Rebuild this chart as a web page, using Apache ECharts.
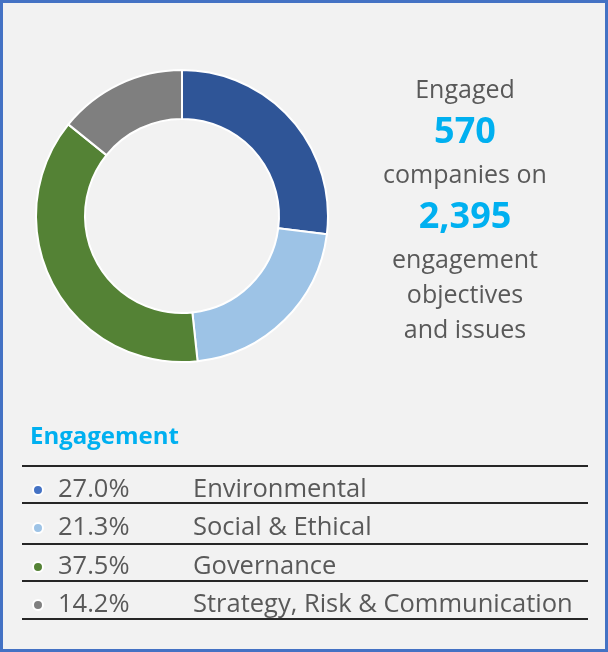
<!DOCTYPE html>
<html><head><meta charset="utf-8">
<script src="https://cdn.jsdelivr.net/npm/echarts@6/dist/echarts.min.js"></script>
<style>html,body{margin:0;padding:0;background:#f2f2f2}#c{width:608px;height:652px}</style>
</head><body><div id="c"></div>
<script>
const categories = ['Environmental', 'Social & Ethical', 'Governance', 'Strategy, Risk & Communication'];
const shares = [27.0, 21.3, 37.5, 14.2];
const colors = ['#2F5597', '#9DC3E6', '#548235', '#7F7F7F'];
const dotColors = ['#4472C4', '#9DC3E6', '#548235', '#808080'];
const companies = '570';
const objectives = '2,395';

const FONT = '"Open Sans", sans-serif';
const chart = echarts.init(document.getElementById('c'));
const rowLines = [466, 503, 544, 581, 619];
const rowCenters = [490, 528, 567, 605];

const legends = categories.map((c, i) => ({
  orient: 'vertical', left: 32, top: rowCenters[i] - 16, padding: 0,
  icon: 'circle', itemWidth: 10, itemHeight: 10,
  selectedMode: false,
  data: [{ name: c, itemStyle: { color: dotColors[i] } }],
  formatter: function (name) {
    const k = categories.indexOf(name);
    return '{s|}{p|' + shares[k].toFixed(1) + '%}{n|' + name + '}';
  },
  textStyle: {
    fontFamily: FONT, fontSize: 26, lineHeight: 32, color: '#595959',
    rich: {
      s: { width: 10, lineHeight: 32 },
      p: { fontFamily: FONT, fontSize: 25.5, color: '#595959', width: 135, lineHeight: 32 },
      n: { fontFamily: FONT, fontSize: 25.5, color: '#595959', lineHeight: 32 }
    }
  }
}));

chart.setOption({
  backgroundColor: '#f2f2f2',
  animation: false,
  title: {
    left: 460, top: 68, textAlign: 'center',
    text: '{t|Engaged}\n{n|' + companies + '}\n{t|companies on}\n{n|' + objectives + '}\n{t|engagement}\n{t|objectives}\n{t|and issues}',
    textStyle: {
      rich: {
        t: { fontFamily: FONT, fontSize: 25, fontWeight: 'normal', color: '#595959', lineHeight: 35, align: 'center' },
        n: { fontFamily: FONT, fontSize: 36, fontWeight: 'bold', color: '#00B0F0', lineHeight: 50, align: 'center' }
      }
    }
  },
  legend: legends,
  graphic: [
    { type: 'rect', shape: { x: 1.5, y: 1.5, width: 605, height: 649 }, style: { fill: 'none', stroke: '#4472C4', lineWidth: 3 } },
    { type: 'text', x: 30, y: 437, style: { text: 'Engagement', fontFamily: FONT, fontSize: 24, fontWeight: 'bold', fill: '#00B0F0', verticalAlign: 'middle' } }
  ].concat(rowLines.map(y => ({
    type: 'line', shape: { x1: 22, y1: y, x2: 588, y2: y }, style: { stroke: '#262626', lineWidth: 2 }
  }))),
  series: [{
    type: 'pie',
    center: [182, 216],
    radius: [97, 146],
    startAngle: 90,
    clockwise: true,
    label: { show: false },
    labelLine: { show: false },
    emphasis: { disabled: true },
    itemStyle: { borderColor: '#ffffff', borderWidth: 2 },
    data: categories.map((c, i) => ({ name: c, value: shares[i], itemStyle: { color: colors[i] } }))
  }]
});
</script></body></html>
